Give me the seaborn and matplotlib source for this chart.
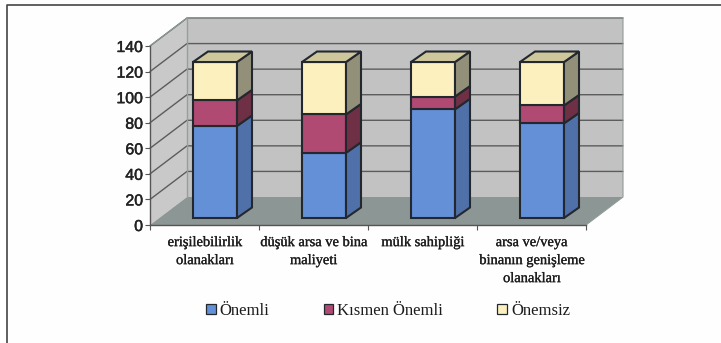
import numpy as np
import matplotlib
matplotlib.use("Agg")
import matplotlib.pyplot as plt
import matplotlib.patheffects as pe
from matplotlib.patches import Polygon, Patch
from matplotlib.transforms import offset_copy
import seaborn as sns

categories = ["erişilebilirlik\nolanakları", "düşük arsa ve bina\nmaliyeti",
              "mülk sahipliği", "arsa ve/veya\nbinanın genişleme\nolanakları"]
series_names = ["Önemli", "Kısmen Önemli", "Önemsiz"]
onemli = [72, 51, 85, 74]
kismen = [20, 30, 10, 14]
onemsiz = [30, 41, 27, 34]
colors = ["#6490d8", "#b04a72", "#fdf0bf"]
side_colors = ["#4f70a8", "#6f3045", "#93907a"]
top_color = "#cfc79c"
yticks = [0, 20, 40, 60, 80, 100, 120, 140]

W, H = 721, 343
L, R, T, B = 150, 586, 46, 225
sns.set_theme(style="white")
plt.rcParams["font.family"] = ["Liberation Serif", "DejaVu Sans"]
fig = plt.figure(figsize=(W / 100, H / 100), dpi=100, facecolor="#fefefe")
ax = fig.add_axes([L / W, 1 - B / H, (R - L) / W, (B - T) / H])
ax.patch.set_visible(False)

ux = (R - L) / 4      # px per category
uy = (B - T) / 140    # px per value unit
dx, dy = 37 / ux, 28 / uy        # depth of the chart box
bdx, bdy = 15 / ux, 10.5 / uy    # depth of a bar
width = 44 / ux

# bars (front faces) through seaborn
bars_tf = offset_copy(ax.transData, fig=fig, x=10.5 * 0.72, y=7 * 0.72, units="points")
vals = [np.array(onemli, float), np.array(kismen, float), np.array(onemsiz, float)]
bottom = np.zeros(4)
edge = "#23282f"
blw = 1.5
for v, c, name in zip(vals, colors, series_names):
    n0 = len(ax.patches)
    sns.barplot(x=categories, y=v, bottom=bottom, color=c, saturation=1, width=width,
                edgecolor=edge, linewidth=blw, ax=ax, zorder=5)
    for p in ax.patches[n0:]:
        p.set_transform(bars_tf)
        p.set_clip_on(False)
    bottom = bottom + v

ax.set_xlim(-0.5, 3.5)
ax.set_ylim(0, 140)

# walls and floor
x0, x1 = -0.5, 3.5
wall = "#c2c2c2"
ax.add_patch(Polygon([(x0, 0), (x0 + dx, dy), (x0 + dx, 140 + dy), (x0, 140)], fc="#c9c9c9", ec="none", clip_on=False, zorder=1))
ax.add_patch(Polygon([(x0 + dx, dy), (x1 + dx, dy), (x1 + dx, 140 + dy), (x0 + dx, 140 + dy)], fc=wall, ec="none", clip_on=False, zorder=1))
ax.add_patch(Polygon([(x0, 0), (x1, 0), (x1 + dx, dy), (x0 + dx, dy)], fc="#8c9694", ec="none", clip_on=False, zorder=1.5))
for v in yticks[1:]:
    ax.plot([x0, x0 + dx, x1 + dx], [v, v + dy, v + dy], color="#5c5c5c", lw=1, clip_on=False, zorder=2)
ax.plot([x0 + dx, x0 + dx], [dy, 140 + dy], color="#93a09c", lw=1, clip_on=False, zorder=2)
ax.plot([x0, x0 + dx, x1 + dx, x1 + dx, x1], [140, 140 + dy, 140 + dy, dy, 0], color="#8f9c98", lw=0.8, clip_on=False, zorder=2)

# bar side and top faces
bottom = np.zeros(4)
for v, sc in zip(vals, side_colors):
    for i in range(4):
        xr = i + width / 2
        ax.add_patch(Polygon([(xr, bottom[i]), (xr + bdx, bottom[i] + bdy),
                              (xr + bdx, bottom[i] + v[i] + bdy), (xr, bottom[i] + v[i])],
                             fc=sc, ec=edge, lw=blw, transform=bars_tf, clip_on=False, zorder=5))
    bottom = bottom + v
for i in range(4):
    xl, xr = i - width / 2, i + width / 2
    ax.add_patch(Polygon([(xl, bottom[i]), (xr, bottom[i]), (xr + bdx, bottom[i] + bdy), (xl + bdx, bottom[i] + bdy)],
                         fc=top_color, ec=edge, lw=blw, transform=bars_tf, clip_on=False, zorder=5))

# axes
sns.despine(ax=ax, top=True, right=True)
for s in ("left", "bottom"):
    ax.spines[s].set_color("#555555")
    ax.spines[s].set_linewidth(1)
    ax.spines[s].set_zorder(3)
ax.grid(False)
ax.set_yticks(yticks)
ax.set_yticklabels([str(t) for t in yticks], family="Liberation Sans", fontsize=11.4, color="#222222",
                   path_effects=[pe.withStroke(linewidth=0.35, foreground="#222222")])
ax.tick_params(axis="y", length=3.5, width=0.8, color="#555555", pad=1.5, left=True)
ax.set_xticks(range(4))
ax.set_xticklabels(categories, fontsize=10.4, color="#1c1c1c", linespacing=1.5, va="top",
                   path_effects=[pe.withStroke(linewidth=0.2, foreground="#1c1c1c")])
ax.set_xticks(np.arange(-0.5, 4), minor=True)
ax.tick_params(axis="x", which="major", length=0, pad=8)
ax.tick_params(axis="x", which="minor", length=3.5, width=0.8, color="#555555", bottom=True)
ax.set_xlabel("")
ax.set_ylabel("")

# legend
handles = [Patch(fc=c, ec=edge, lw=0.9, label=n) for c, n in zip(colors, series_names)]
leg = fig.legend(handles=handles, loc="center", bbox_to_anchor=(388 / W, 1 - 311 / H), ncol=3, frameon=False,
                 fontsize=12, handlelength=0.58, handleheight=0.58, handletextpad=0.25, columnspacing=3.25,
                 labelcolor="#1c1c1c", borderpad=0)

# outer frame
fig.add_artist(plt.Line2D([7 / W, 7 / W, 1], [0, 1 - 4.5 / H, 1 - 4.5 / H], color="#444444", lw=1.2))

fig.savefig("out.png", dpi=100, facecolor=fig.get_facecolor())
